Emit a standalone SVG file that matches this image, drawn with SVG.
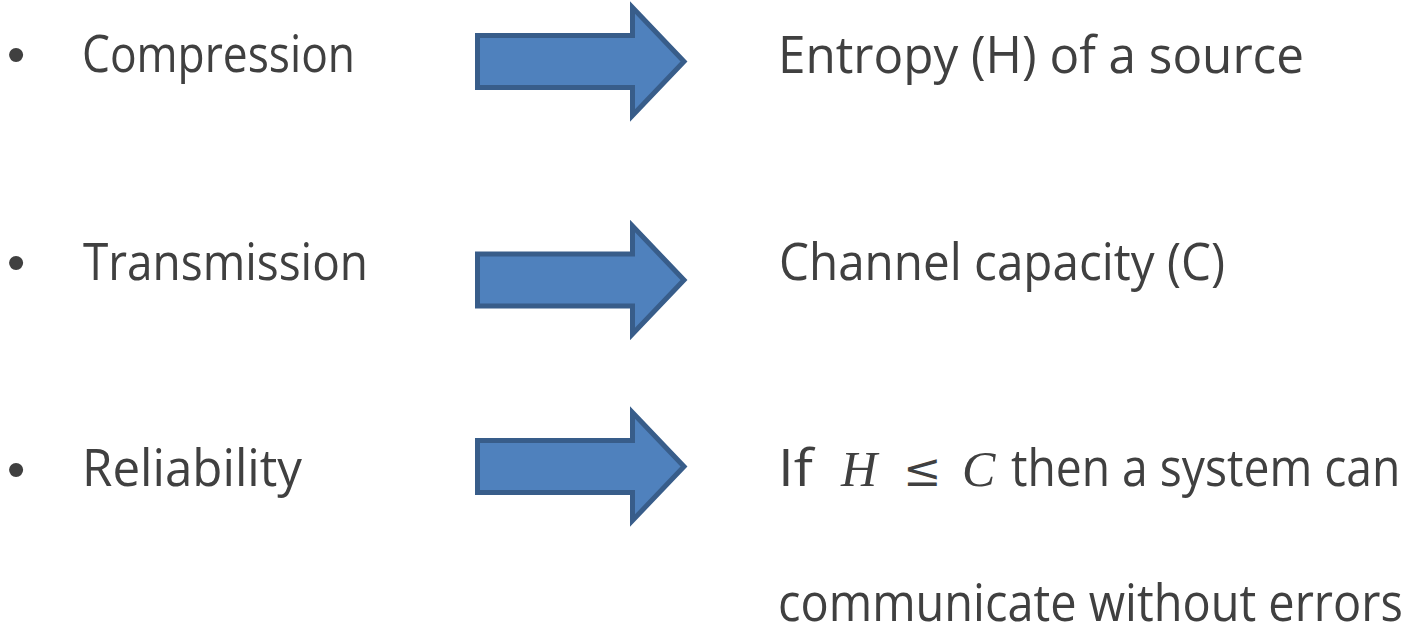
<svg xmlns="http://www.w3.org/2000/svg" width="1412" height="630" viewBox="0 0 1412 630">
  <style>
    .txt { font-family: "Open Sans", "Noto Sans", sans-serif; font-size: 52px; fill: #404040; }
    .bul { font-family: "Liberation Sans", Arial, sans-serif; font-size: 52px; fill: #404040; }
    .math { font-family: "Liberation Serif", "DejaVu Serif", serif; font-style: italic; font-size: 50px; fill: #404040; }
    .rel { font-family: "DejaVu Serif", "Liberation Serif", serif; font-size: 46px; fill: #404040; }
    .arrow { fill: #4F81BD; stroke: #385D8A; stroke-width: 5; stroke-linejoin: miter; }
  </style>
  <defs>
    <!-- block arrow centred on y = 0 -->
    <path id="blockArrow" d="M477.5,-26 H632.5 V-54 L684,0 L632.5,54 V26 H477.5 Z"/>
  </defs>

  <g id="row-compression">
    <text class="bul" x="7" y="72">•</text>
    <text class="txt" x="82" y="72" textLength="273" lengthAdjust="spacingAndGlyphs">Compression</text>
  </g>
  <g id="row-transmission">
    <text class="bul" x="7" y="280">•</text>
    <text class="txt" x="83" y="280" textLength="285" lengthAdjust="spacingAndGlyphs">Transmission</text>
  </g>
  <g id="row-reliability">
    <text class="bul" x="7" y="487">•</text>
    <text class="txt" x="82" y="486" textLength="220" lengthAdjust="spacingAndGlyphs">Reliability</text>
  </g>

  <g id="connectors">
    <use href="#blockArrow" class="arrow" transform="translate(0,61.5)"/>
    <use href="#blockArrow" class="arrow" transform="translate(0,280)"/>
    <use href="#blockArrow" class="arrow" transform="translate(0,466.5)"/>
  </g>

  <g id="result-entropy">
    <text class="txt" x="778" y="73" textLength="526" lengthAdjust="spacingAndGlyphs">Entropy (H) of a source</text>
  </g>
  <g id="result-capacity">
    <text class="txt" x="779" y="280" textLength="446" lengthAdjust="spacingAndGlyphs">Channel capacity (C)</text>
  </g>
  <g id="result-reliability">
    <text class="txt" x="778" y="486" textLength="35" lengthAdjust="spacingAndGlyphs">If</text>
    <text class="math" x="841" y="486">H</text>
    <text class="rel" x="903" y="486">≤</text>
    <text class="math" x="962" y="486">C</text>
    <!-- the last two lines are narrowed with a horizontal scale so they end inside the right margin -->
    <text class="txt" transform="translate(1011,486) scale(0.885,1)" textLength="440" lengthAdjust="spacingAndGlyphs">then a system can</text>
    <text class="txt" transform="translate(778,621) scale(0.88,1)" textLength="710" lengthAdjust="spacingAndGlyphs">communicate without errors</text>
  </g>
</svg>
